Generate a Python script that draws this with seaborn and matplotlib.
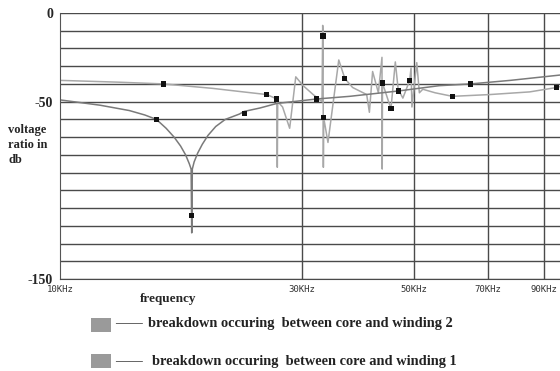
import matplotlib
matplotlib.use("Agg")
import matplotlib.pyplot as plt
import numpy as np
import pandas as pd
import seaborn as sns
from matplotlib.patches import Rectangle

# winding 2 curve (upper one, with the resonance spikes)
w2_freq = [10.0, 13.0, 16.0, 20.0, 23.0, 25.6, 26.8, 26.85, 26.9, 27.5, 28.4, 29.2,
           30.2, 31.6, 32.9, 33.0, 33.05, 33.1, 33.15, 33.8, 35.5, 36.5, 37.8, 40.3,
           40.8, 41.4, 42.5, 43.2, 43.25, 43.3, 45.0, 45.9, 46.5, 47.5, 49.0, 49.3,
           49.5, 50.6, 51.2, 52.0, 55.0, 59.5, 70.5, 84.5, 95.6, 97.0]
w2_db = [-38, -39, -40, -42.5, -44.5, -46, -48.5, -87, -50, -53, -65, -36,
         -41, -46, -50, -7, -13, -87, -59, -73, -26.5, -37, -42, -46,
         -56, -33, -45, -25, -88, -39.5, -54, -27.6, -43, -48, -38, -31,
         -53, -28, -45, -43, -45, -47, -46, -44.5, -42, -41.5]
w2_mark_freq = [16.0, 25.6, 26.8, 33.05, 33.15, 36.5, 43.3, 45.0, 49.0, 59.5, 95.6]
w2_mark_db = [-40, -46, -48.5, -13, -59, -37, -39.5, -54, -38, -47, -42]

# winding 1 curve (notch near 18 kHz)
w1_freq = [10.0, 12.0, 13.7, 14.7, 15.5, 16.2, 16.8, 17.3, 17.7, 18.0, 18.15, 18.2,
           18.25, 18.4, 18.7, 19.1, 19.6, 20.3, 21.2, 22.6, 23.1, 24.8, 26.8, 32.1,
           37.3, 46.5, 56.0, 64.6, 77.4, 97.0]
w1_db = [-49, -52, -55, -57.5, -60, -65, -70, -75, -80, -85, -88, -124,
         -88, -84, -79, -74, -69, -64, -60, -57, -55.5, -53.6, -51, -48.5,
         -47, -44, -41, -40, -38, -35]
w1_mark_freq = [15.5, 18.2, 23.1, 32.1, 46.5, 64.6]
w1_mark_db = [-60, -114, -56.5, -48.5, -44, -40]

xtick_khz = [10, 30, 50, 70, 90]
xtick_labels = ["10KHz", "30KHz", "50KHz", "70KHz", "90KHz"]

legend_labels = ["breakdown occuring  between core and winding 2",
                 "breakdown occuring  between core and winding 1"]

sns.set_style("white")
plt.rcParams["font.family"] = ["Liberation Serif", "DejaVu Serif"]

fig = plt.figure(figsize=(5.6, 3.71), dpi=100)
ax = fig.add_axes([0.107, 0.248, 0.893, 0.717])

w2 = pd.DataFrame({"f": np.array(w2_freq) * 1000, "db": w2_db})
w1 = pd.DataFrame({"f": np.array(w1_freq) * 1000, "db": w1_db})
sns.lineplot(data=w2, x="f", y="db", sort=False, color="#a8a8a8", lw=1.1, ax=ax)
sns.lineplot(data=w1, x="f", y="db", sort=False, color="#7a7a7a", lw=1.1, ax=ax)
sns.scatterplot(x=np.array(w2_mark_freq) * 1000, y=w2_mark_db, marker="s", s=14,
                color="#111111", edgecolor="none", ax=ax, zorder=5)
sns.scatterplot(x=np.array(w1_mark_freq) * 1000, y=w1_mark_db, marker="s", s=14,
                color="#111111", edgecolor="none", ax=ax, zorder=5)

ax.set_xscale("log")
ax.set_xlim(10000, 97000)
ax.set_ylim(-150, 0)
ax.minorticks_off()

for v in range(0, -151, -10):
    ax.axhline(v, color="#4a4a4a", lw=1.0, zorder=1)
for f in xtick_khz[1:]:
    ax.axvline(f * 1000, color="#4a4a4a", lw=1.0, zorder=1)

ax.set_yticks(list(range(0, -151, -10)))
ax.set_yticklabels([str(v) if v in (0, -50, -150) else "" for v in range(0, -151, -10)],
                   fontsize=10, fontweight="bold")
ax.set_xticks([k * 1000 for k in xtick_khz])
ax.set_xticklabels(xtick_labels, fontsize=6.5, family="DejaVu Sans Mono", color="#333333")
ax.tick_params(axis="y", length=3, color="#555555", pad=2)
ax.tick_params(axis="x", length=0, pad=4)
ax.set_xlabel("")
ax.set_ylabel("")

for side in ["top", "right"]:
    ax.spines[side].set_visible(False)
ax.spines["left"].set_color("#555555")
ax.spines["bottom"].set_color("#4a4a4a")

fig.text(0.015, 0.665, "voltage\nratio in\ndb", fontsize=9, fontweight="bold",
         va="top", ha="left", linespacing=1.3)
fig.text(0.30, 0.195, "frequency", fontsize=9.5, fontweight="bold", ha="center", va="center")

# hand-made legend under the chart
for label, y_box, y_txt, x_txt in [(legend_labels[0], 0.105, 0.129, 0.264),
                                   (legend_labels[1], 0.008, 0.026, 0.271)]:
    fig.patches.append(Rectangle((0.163, y_box), 0.035, 0.038, transform=fig.transFigure,
                                 facecolor="#9a9a9a", edgecolor="none"))
    fig.text(0.205, y_txt, "——", fontsize=10, va="center", ha="left", color="#333333")
    fig.text(x_txt, y_txt, label, fontsize=10.4, fontweight="bold", va="center", ha="left",
             color="#222222")

fig.savefig("out.png", dpi=100)
